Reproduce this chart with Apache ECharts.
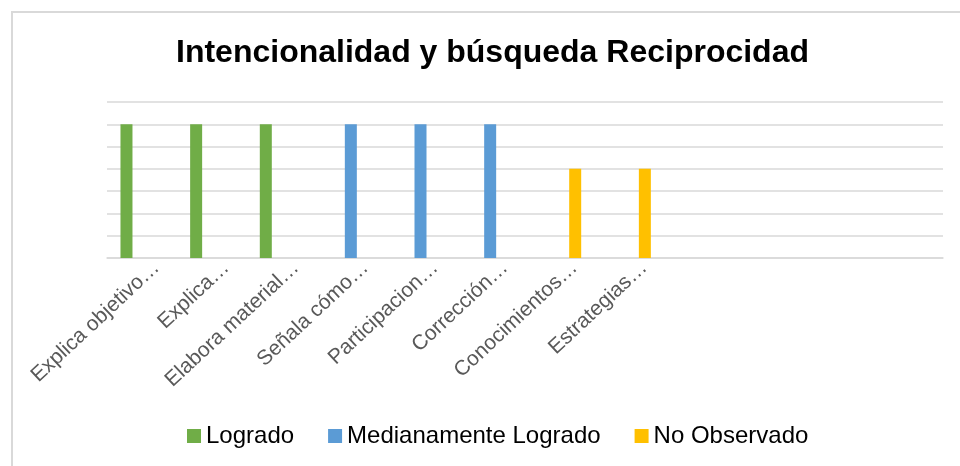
<!DOCTYPE html>
<html>
	<head>
		<meta charset="utf-8">
		<title>Intencionalidad y búsqueda Reciprocidad</title>
		<script src="https://cdn.jsdelivr.net/npm/echarts@6/dist/echarts.min.js"></script>
		<style>
			html, body { margin: 0; padding: 0; background: #fff; }
		</style>
	</head>
	<body>
		<div id="main" style="width: 960px; height: 466px;"></div>
		<script>
			// categorías (las 4 últimas vacías, como en el original)
			var categorias = [
				'Explica objetivo…', 'Explica…', 'Elabora material…', 'Señala cómo…',
				'Participacion…', 'Corrección…', 'Conocimientos…', 'Estrategias…',
				'', '', '', ''
			];
			var logrado      = [6, 6, 6, null, null, null, null, null, null, null, null, null];
			var medianamente = [null, null, null, 6, 6, 6, null, null, null, null, null, null];
			var noObservado  = [null, null, null, null, null, null, 4, 4, null, null, null, null];

			var fuente = '"Liberation Sans", Arial, sans-serif';

			var mychart = echarts.init(document.getElementById('main'));
			var option = {
				backgroundColor: '#fff',
				animation: false,
				graphic: [{
					type: 'rect',
					shape: { x: 12, y: 12, width: 1000, height: 1000 },
					style: { fill: 'none', stroke: '#d9d9d9', lineWidth: 2 },
					silent: true
				}],
				title: {
					text: 'Intencionalidad y búsqueda Reciprocidad',
					left: 176,
					top: 37,
					padding: 0,
					textStyle: {
						color: '#000',
						fontFamily: fuente,
						fontWeight: 'bold',
						fontSize: 32
					}
				},
				legend: {
					left: 187,
					top: 424,
					padding: 0,
					itemWidth: 14,
					itemHeight: 14,
					itemGap: 34,
					icon: 'rect',
					textStyle: {
						color: '#000',
						fontFamily: fuente,
						fontSize: 24
					},
					data: ['Logrado', 'Medianamente Logrado', 'No Observado']
				},
				grid: {
					left: 107,
					right: 17,
					top: 102,
					bottom: 208,
					containLabel: false
				},
				xAxis: {
					type: 'category',
					data: categorias,
					axisTick: { show: false },
					axisLine: { lineStyle: { color: '#d9d9d9', width: 1.5 } },
					axisLabel: {
						interval: 0,
						rotate: 43,
						margin: -9,
						verticalAlign: 'top',
						padding: [11, 0, 0, 0],
						color: '#595959',
						fontFamily: fuente,
						fontSize: 21
					}
				},
				yAxis: {
					type: 'value',
					min: 0,
					max: 7,
					interval: 1,
					axisLabel: { show: false },
					axisLine: { show: false },
					axisTick: { show: false },
					splitLine: { lineStyle: { color: '#d9d9d9', width: 1.5 } }
				},
				series: [{
					name: 'Logrado',
					type: 'bar',
					data: logrado,
					barWidth: 12,
					barGap: '28%',
					itemStyle: { color: '#70AD47' }
				}, {
					name: 'Medianamente Logrado',
					type: 'bar',
					data: medianamente,
					barWidth: 12,
					barGap: '28%',
					itemStyle: { color: '#5B9BD5' }
				}, {
					name: 'No Observado',
					type: 'bar',
					data: noObservado,
					barWidth: 12,
					barGap: '28%',
					itemStyle: { color: '#FFC000' }
				}]
			};
			mychart.setOption(option);
		</script>
	</body>
</html>
